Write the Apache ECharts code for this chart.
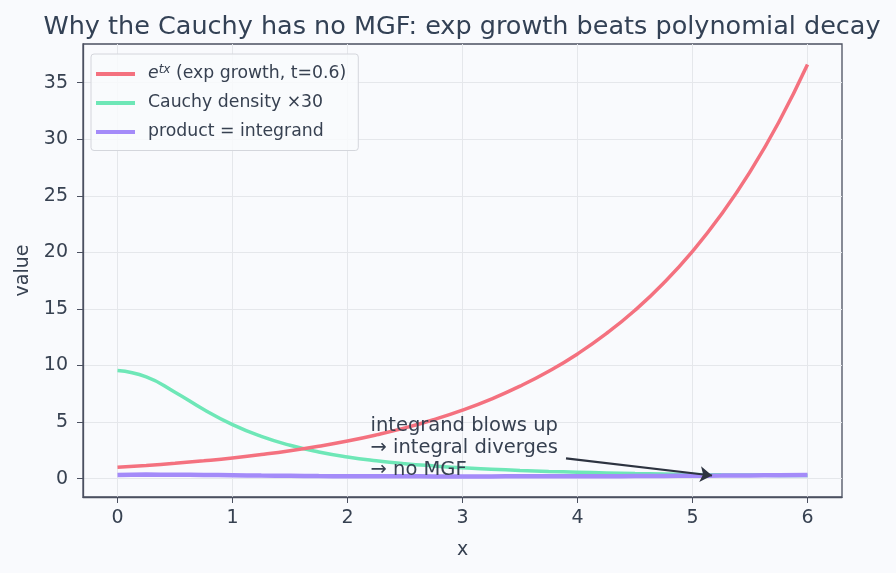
<!DOCTYPE html>
<html>
<head>
<meta charset="utf-8">
<script src="https://cdn.jsdelivr.net/npm/echarts@6/dist/echarts.min.js"></script>
<style>
  html, body { margin: 0; padding: 0; background: #f9fafd; }
  #main { width: 896px; height: 573px; }
</style>
</head>
<body>
<div id="main"></div>
<script>
// x grid, step 0.25 from 0 to 6
const xs = [0, 0.25, 0.5, 0.75, 1, 1.25, 1.5, 1.75, 2, 2.25, 2.5, 2.75, 3, 3.25, 3.5, 3.75, 4, 4.25, 4.5, 4.75, 5, 5.25, 5.5, 5.75, 6]
const expGrowth = [1.00, 1.16, 1.35, 1.57, 1.82, 2.12, 2.46, 2.86, 3.32, 3.86, 4.48, 5.21, 6.05, 7.03, 8.17, 9.49, 11.02, 12.81, 14.88, 17.29, 20.09, 23.34, 27.11, 31.50, 36.60]
const cauchy30 = [9.55, 8.99, 7.64, 6.11, 4.77, 3.73, 2.94, 2.35, 1.91, 1.58, 1.32, 1.12, 0.95, 0.83, 0.72, 0.63, 0.56, 0.50, 0.45, 0.41, 0.37, 0.33, 0.31, 0.28, 0.26]
const product = [0.32, 0.35, 0.34, 0.32, 0.29, 0.26, 0.24, 0.22, 0.21, 0.20, 0.20, 0.19, 0.19, 0.19, 0.20, 0.20, 0.21, 0.21, 0.22, 0.23, 0.25, 0.26, 0.28, 0.29, 0.32]
const xTicks = [0, 1, 2, 3, 4, 5, 6]
const yTicks = [0, 5, 10, 15, 20, 25, 30, 35]
const seriesNames = ['exp', 'cauchy', 'product']
const legendLabels = {
  exp: '{it|e}{sup|tx} (exp growth, t=0.6)',
  cauchy: 'Cauchy density \u00d730',
  product: 'product = integrand'
}
const noteLines = ['integrand blows up', '\u2192 integral diverges', '\u2192 no MGF']
const noteAt = [2.2, 5.6]
const arrowFrom = [3.9, 1.78]
const arrowTo = [5.17, 0.27]

const pair = (ys) => xs.map((x, i) => [x, ys[i]])

const textColor = '#374151'
const axisColor = '#4b5060'
const font = 'DejaVu Sans'

const chart = echarts.init(document.getElementById('main'))
const option = {
  backgroundColor: '#f9fafd',
  textStyle: { fontFamily: font },
  title: {
    text: 'Why the Cauchy has no MGF: exp growth beats polynomial decay',
    left: 457, top: 9, textAlign: 'center',
    textStyle: { fontFamily: font, fontSize: 25.5, fontWeight: 'normal', color: '#334155' }
  },
  grid: {
    left: 83, right: 54, top: 44, bottom: 76,
    show: true, borderColor: axisColor, borderWidth: 1.3, backgroundColor: 'transparent'
  },
  legend: {
    left: 91, top: 54, orient: 'vertical', itemGap: 12,
    itemWidth: 39, itemHeight: 4, icon: 'rect',
    padding: [10, 12, 10, 5],
    backgroundColor: 'rgba(249,250,253,0.85)', borderColor: '#d4d6dc', borderWidth: 1, borderRadius: 3,
    data: seriesNames,
    formatter: (n) => legendLabels[n],
    textStyle: {
      fontFamily: font, fontSize: 17.3, color: textColor, padding: [0, 0, 0, 8],
      rich: {
        it: { fontSize: 17.3, fontStyle: 'italic', color: textColor },
        sup: { fontSize: 12, verticalAlign: 'top', padding: [0, 0, 8, 0], color: textColor, fontStyle: 'italic' }
      }
    }
  },
  xAxis: {
    type: 'value', min: -0.3, max: 6.3,
    name: 'x', nameLocation: 'middle', nameGap: 44,
    nameTextStyle: { fontSize: 19, color: textColor },
    axisLine: { show: true, onZero: false, lineStyle: { color: axisColor, width: 1.3 } },
    axisTick: { show: true, length: 6, lineStyle: { color: axisColor }, customValues: xTicks },
    axisLabel: { fontSize: 19, color: textColor, margin: 12, customValues: xTicks },
    splitLine: { show: true, lineStyle: { color: '#e5e7eb', width: 1 } }
  },
  yAxis: {
    type: 'value', min: -1.63, max: 38.42,
    name: 'value', nameLocation: 'middle', nameGap: 50,
    nameTextStyle: { fontSize: 19, color: textColor },
    axisLine: { show: true, onZero: false, lineStyle: { color: axisColor, width: 1.3 } },
    axisTick: { show: true, length: 6, lineStyle: { color: axisColor }, customValues: yTicks },
    axisLabel: { fontSize: 19, color: textColor, margin: 15, customValues: yTicks },
    splitLine: { show: true, lineStyle: { color: '#e5e7eb', width: 1 } }
  },
  series: [
    {
      name: 'exp', type: 'line', data: pair(expGrowth), smooth: true, showSymbol: false,
      color: '#f4717f', lineStyle: { width: 3.5 }, z: 3
    },
    {
      name: 'cauchy', type: 'line', data: pair(cauchy30), smooth: true, showSymbol: false,
      color: '#6ee7b7', lineStyle: { width: 3.5 }, z: 2
    },
    {
      name: 'product', type: 'line', data: pair(product), smooth: true, showSymbol: false,
      color: '#a48bf9', lineStyle: { width: 4.5 }, z: 4,
      markLine: {
        silent: true, symbol: ['none', 'arrow'], symbolSize: 12,
        lineStyle: { color: '#2d3340', width: 2.2, type: 'solid' },
        label: { show: false },
        data: [[{ coord: arrowFrom }, { coord: arrowTo }]]
      }
    }
  ]
}
chart.setOption(option)

// annotation text placed through the axes
const p = chart.convertToPixel({ gridIndex: 0 }, noteAt)
chart.setOption({
  graphic: [{
    type: 'text', left: p[0], top: p[1], z: 10,
    style: {
      text: noteLines.join('\n'), fontFamily: font, fontSize: 19.5, lineHeight: 22, fill: '#374151'
    }
  }]
})
</script>
</body>
</html>
